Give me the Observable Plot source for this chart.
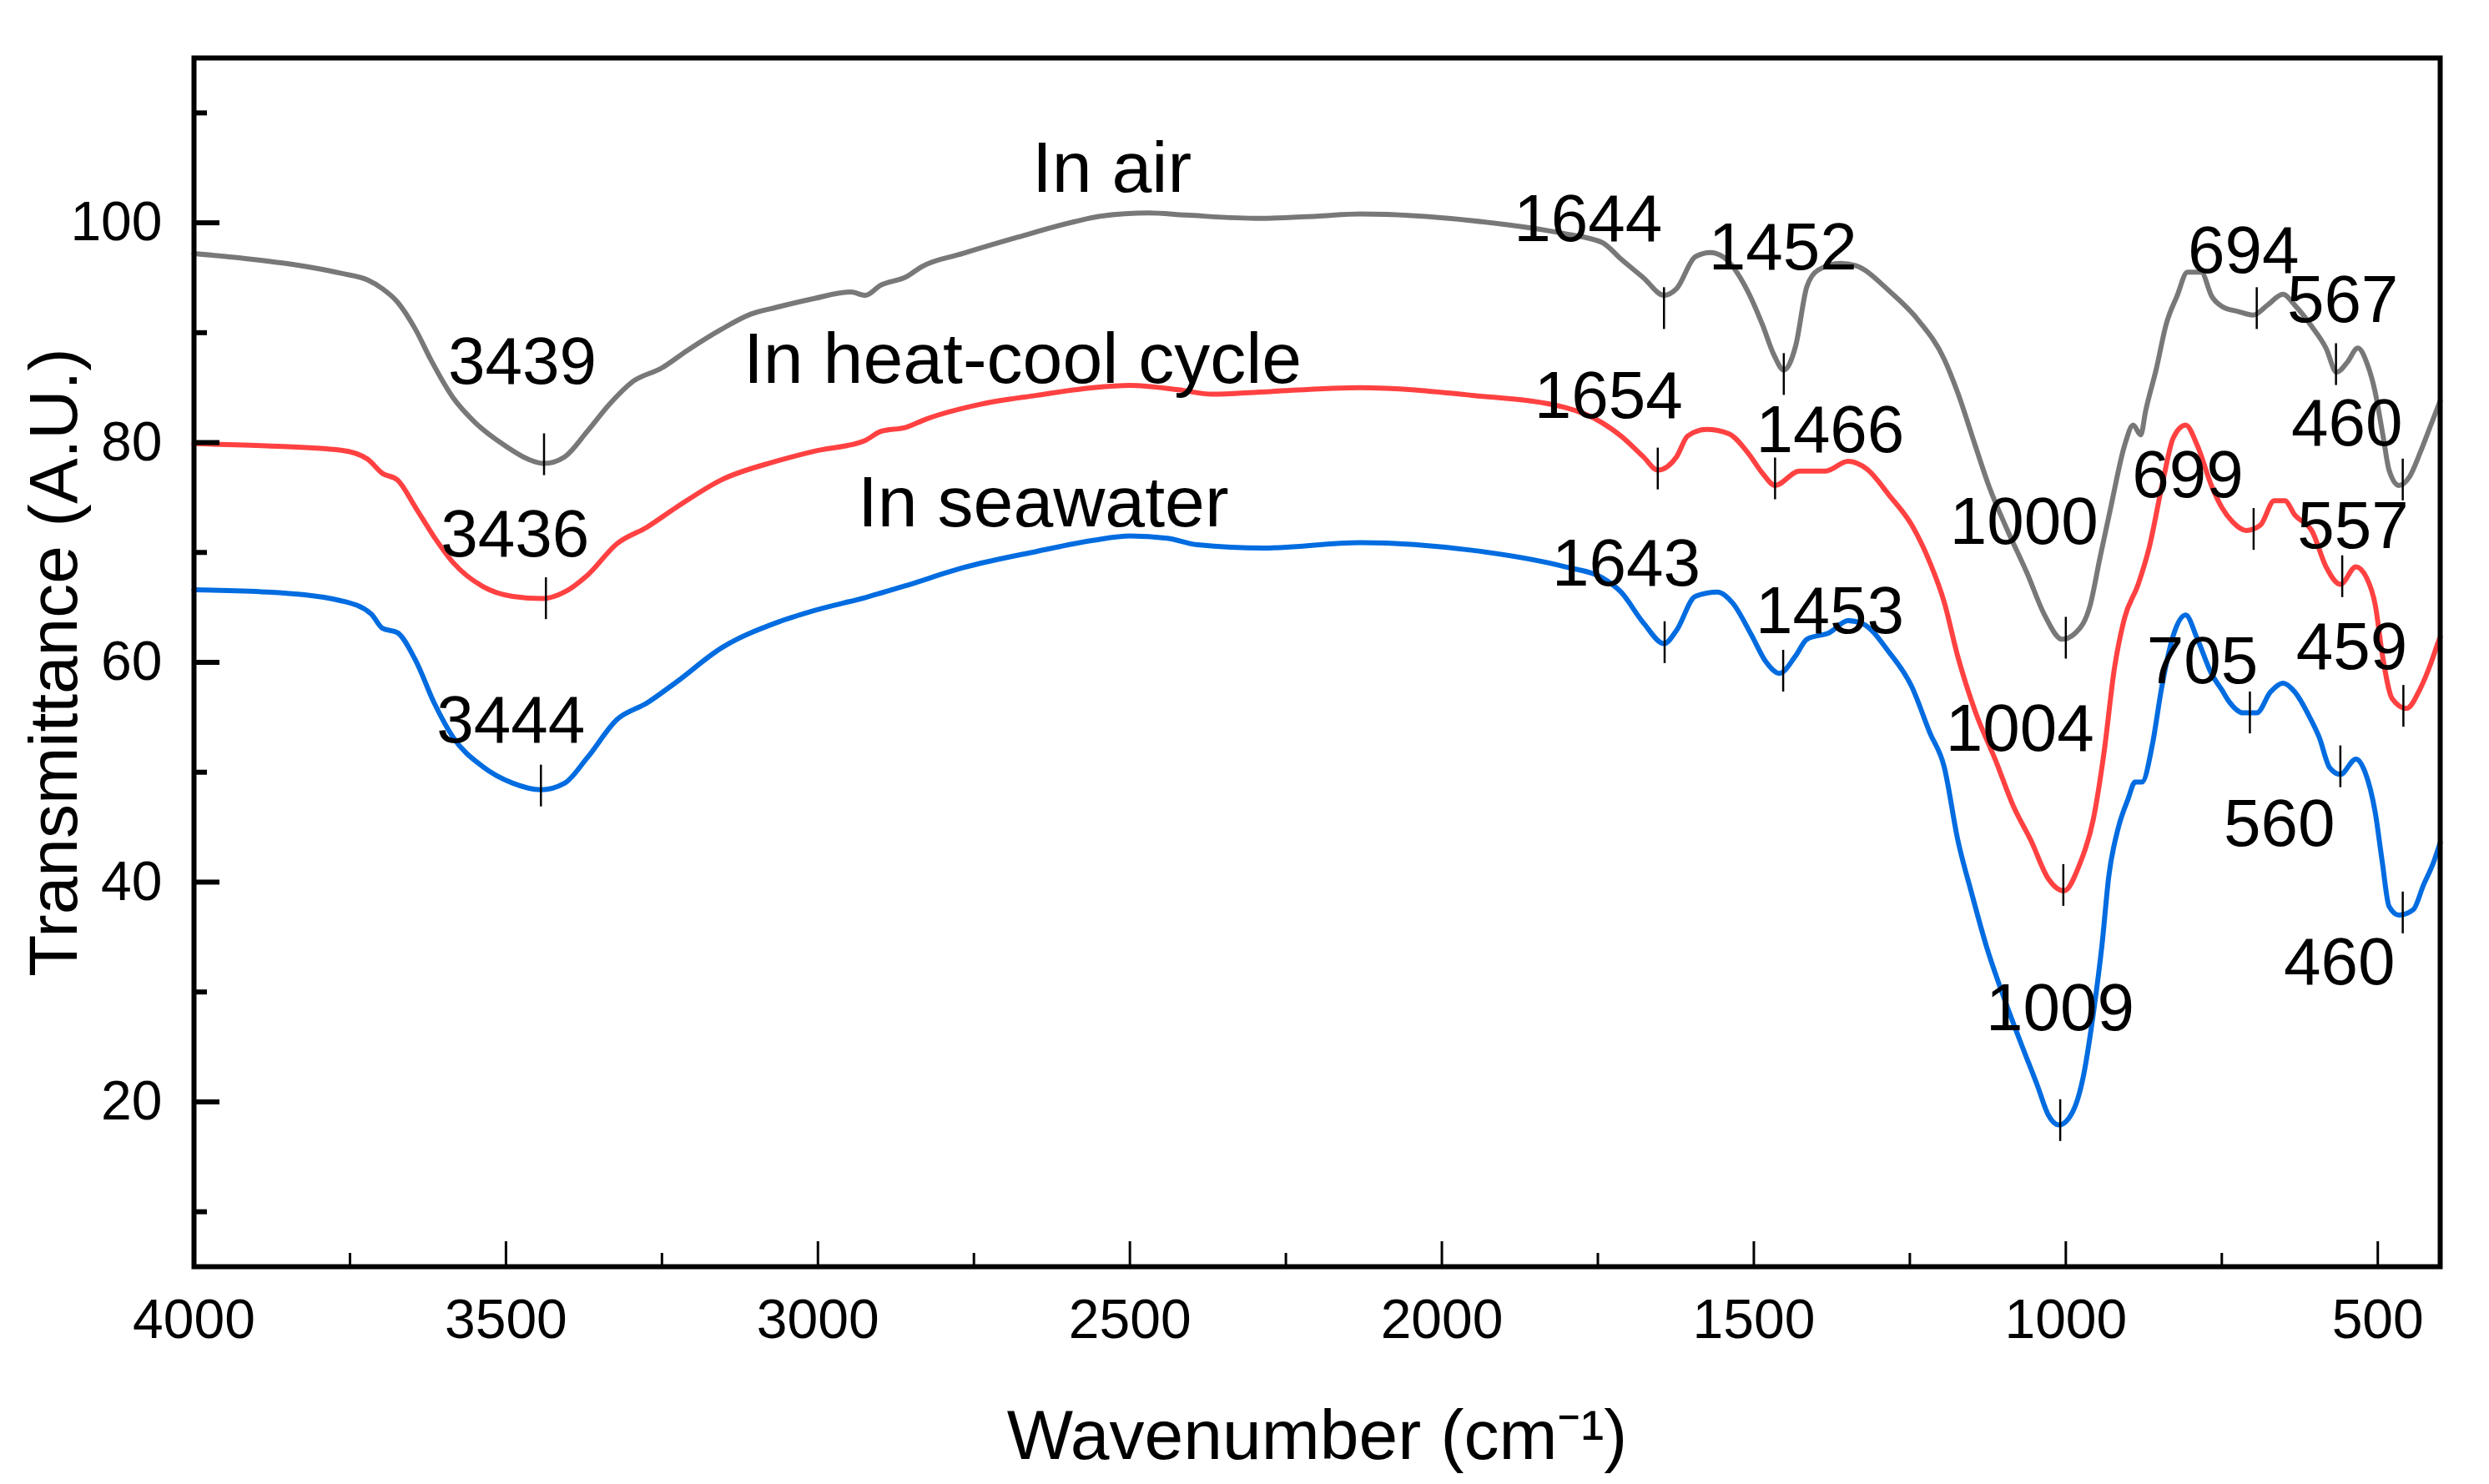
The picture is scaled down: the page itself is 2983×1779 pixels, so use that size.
<!DOCTYPE html>
<html>
<head>
<meta charset="utf-8">
<script src="https://cdn.jsdelivr.net/npm/d3@7"></script>
<script src="https://cdn.jsdelivr.net/npm/@observablehq/plot@0.6"></script>
<style>
  body { margin: 0; background: white; }
</style>
</head>
<body>
<div id="chart"></div>
<script>
// FTIR spectra, [wavenumber, transmittance]
const inAir = [
  [4000, 97.2], [3943, 96.9], [3853, 96.3], [3764, 95.4], [3722, 94.8], [3698, 94.0],
  [3674, 92.8], [3645, 90.3], [3621, 87.6], [3585, 84.1], [3549, 81.8], [3501, 79.7],
  [3465, 78.5], [3439, 78.1], [3406, 78.7], [3370, 81.0], [3334, 83.5], [3298, 85.5],
  [3250, 86.8], [3209, 88.4], [3155, 90.3], [3107, 91.7], [3067, 92.3], [3007, 93.1],
  [2947, 93.7], [2924, 93.4], [2900, 94.3], [2858, 95.1], [2834, 96.0], [2768, 97.2],
  [2679, 98.7], [2589, 100.1], [2548, 100.6], [2470, 100.9], [2410, 100.7], [2291, 100.4],
  [2201, 100.6], [2131, 100.8], [1952, 100.2], [1803, 99.0], [1743, 98.2], [1713, 96.7],
  [1677, 95.0], [1644, 93.4], [1624, 94.0], [1594, 96.9], [1570, 97.3], [1549, 96.9],
  [1510, 93.8], [1486, 90.7], [1468, 88.0], [1452, 86.6], [1433, 88.8], [1415, 94.2],
  [1397, 95.7], [1361, 96.3], [1337, 96.1], [1283, 93.8], [1236, 91.1], [1195, 87.6],
  [1173, 84.5], [1145, 79.7], [1123, 76.0], [1095, 72.2], [1062, 68.1], [1034, 64.3],
  [1006, 62.1], [984, 62.7], [961, 65.2], [945, 69.6], [928, 74.1], [906, 79.7],
  [892, 81.6], [880, 80.7], [872, 82.9], [855, 86.7], [839, 90.8], [822, 93.3],
  [805, 95.5], [783, 95.5], [766, 93.3], [750, 92.4], [722, 91.9], [700, 91.6],
  [677, 92.5], [652, 93.5], [633, 92.5], [605, 90.5], [583, 88.6], [566, 86.4],
  [549, 87.3], [532, 88.6], [516, 87.0], [505, 84.8], [491, 80.4], [482, 77.5],
  [466, 76.1], [449, 76.9], [432, 79.1], [415, 81.6], [400, 83.8]
];

const inHeatCool = [
  [4000, 79.9], [3883, 79.7], [3764, 79.3], [3722, 78.5], [3698, 77.2], [3674, 76.6],
  [3645, 74.1], [3615, 71.4], [3585, 69.1], [3537, 66.9], [3489, 66.0], [3441, 65.8],
  [3406, 66.4], [3370, 67.9], [3322, 70.8], [3274, 72.3], [3227, 74.1], [3155, 76.6],
  [3067, 78.3], [3007, 79.2], [2924, 80.2], [2900, 81.0], [2858, 81.4], [2828, 82.1],
  [2738, 83.5], [2649, 84.3], [2559, 85.0], [2500, 85.2], [2422, 84.8], [2368, 84.4],
  [2291, 84.6], [2131, 85.0], [1952, 84.3], [1803, 83.2], [1743, 81.8], [1713, 80.6],
  [1677, 78.7], [1654, 77.5], [1624, 78.7], [1606, 80.6], [1576, 81.2], [1540, 80.8],
  [1510, 79.1], [1486, 77.2], [1466, 76.1], [1427, 77.4], [1385, 77.4], [1349, 78.3],
  [1319, 77.6], [1283, 75.2], [1247, 72.5], [1218, 69.1], [1195, 65.5], [1173, 60.5],
  [1145, 55.5], [1112, 51.0], [1084, 46.9], [1056, 43.8], [1028, 40.3], [1003, 39.2],
  [978, 41.6], [956, 45.7], [939, 51.7], [922, 59.5], [906, 64.0], [884, 67.1],
  [867, 70.3], [844, 76.6], [828, 80.4], [808, 81.6], [789, 79.7], [766, 76.0],
  [750, 74.1], [733, 72.8], [711, 72.0], [688, 72.5], [666, 74.7], [649, 74.7],
  [633, 73.4], [605, 71.9], [583, 68.7], [560, 67.1], [535, 68.7], [518, 67.7],
  [504, 65.2], [493, 60.8], [477, 56.7], [454, 55.8], [432, 57.6], [415, 59.9],
  [404, 61.7], [400, 62.3]
];

const inSeawater = [
  [4000, 66.6], [3883, 66.4], [3764, 65.6], [3716, 64.4], [3698, 63.1], [3674, 62.7],
  [3645, 60.2], [3615, 56.3], [3585, 53.2], [3537, 50.5], [3489, 49.0], [3444, 48.4],
  [3406, 49.0], [3370, 51.3], [3322, 54.8], [3274, 56.3], [3227, 58.2], [3155, 61.3],
  [3067, 63.6], [3007, 64.7], [2924, 65.9], [2858, 67.0], [2768, 68.6], [2649, 70.1],
  [2559, 71.1], [2500, 71.5], [2440, 71.3], [2392, 70.7], [2285, 70.4], [2131, 70.9],
  [1952, 70.2], [1803, 68.7], [1743, 67.7], [1713, 66.4], [1677, 63.6], [1644, 61.7],
  [1624, 62.9], [1594, 66.0], [1558, 66.4], [1534, 65.4], [1504, 62.5], [1480, 60.0],
  [1459, 59.0], [1433, 60.6], [1415, 62.1], [1379, 62.7], [1349, 63.8], [1325, 63.5],
  [1283, 60.9], [1247, 57.8], [1218, 53.6], [1195, 50.5], [1173, 43.8], [1151, 39.0],
  [1128, 34.3], [1100, 29.6], [1073, 25.5], [1045, 21.4], [1028, 18.8], [1011, 17.9],
  [989, 19.1], [972, 22.3], [956, 28.0], [942, 34.3], [931, 40.6], [917, 44.7],
  [900, 47.6], [889, 49.1], [878, 49.1], [861, 52.6], [847, 57.5], [828, 62.4],
  [808, 64.3], [789, 62.1], [766, 58.9], [750, 57.5], [738, 56.4], [716, 55.4],
  [694, 55.4], [672, 57.3], [652, 58.1], [633, 57.3], [610, 55.1], [594, 53.2],
  [577, 50.4], [560, 49.8], [535, 51.2], [521, 50.1], [504, 46.3], [493, 41.9],
  [482, 37.8], [466, 37.0], [443, 37.5], [427, 39.7], [410, 41.9], [400, 43.6]
];

const seriesNames = ["In air", "In heat-cool cycle", "In seawater"];
const seriesColors = ["#787878", "#ff4141", "#006ce0"];

// series name placed at [wavenumber, transmittance]
const seriesLabelAt = [[2529, 102.8], [2672, 85.4], [2639, 72.4]];

// labelled bands: wavenumber and the transmittance at the centre of the marker
const peakText = ["3439", "1644", "1452", "1000", "694", "567", "460",
                  "3436", "1654", "1466", "1004", "699", "557", "459",
                  "3444", "1643", "1453", "1009", "705", "560", "460"];
const peakWn = [3439, 1644, 1452, 1000, 694, 567, 460,
                3436, 1654, 1466, 1004, 699, 557, 459,
                3444, 1643, 1453, 1009, 705, 560, 460];
const peakT = [78.9, 92.2, 86.2, 62.2, 92.2, 87.1, 76.6,
               65.8, 77.6, 76.7, 39.7, 72.1, 67.8, 56.0,
               48.75, 61.8, 59.2, 18.3, 55.4, 50.5, 37.2];

// label placement relative to the marker, in px
const peakShift = [[-26, -85], [-91, -81], [-1, -126], [-50, -113], [-16, -43], [8, -51], [-67, -41],
                   [-37, -51], [-59, -61], [66, -32], [-52, -161], [-79, -39], [13, -34], [-62, -45],
                   [-36, -52], [-46, -68], [56, -46], [0, -108], [-57, -36], [-73, 95], [-76, 86]];

const xMajor = [4000, 3500, 3000, 2500, 2000, 1500, 1000, 500];
const xMinor = [3750, 3250, 2750, 2250, 1750, 1250, 750];
const yMajor = [20, 40, 60, 80, 100];
const yMinor = [10, 30, 50, 70, 90, 110];

const rows = [inAir, inHeatCool, inSeawater].flatMap((s, i) =>
  s.map(([wn, t]) => ({series: seriesNames[i], wn, t})));
const peaks = peakText.map((text, i) => ({text, wn: peakWn[i], t: peakT[i]}));
const seriesLabels = seriesNames.map((name, i) => ({name, wn: seriesLabelAt[i][0], t: seriesLabelAt[i][1]}));

const font = "'Liberation Sans', Arial, sans-serif";

const chart = Plot.plot({
  width: 2983,
  height: 1779,
  marginLeft: 232,
  marginRight: 59,
  marginTop: 69,
  marginBottom: 261,
  style: {fontFamily: font, color: "black", background: "white"},
  x: {domain: [4000, 400]},
  y: {domain: [5, 115]},
  color: {domain: seriesNames, range: seriesColors},
  marks: [
    Plot.line(rows, {x: "wn", y: "t", z: "series", stroke: "series", strokeWidth: 6, curve: "monotone-x"}),
    Plot.ruleX(peaks, {x: "wn", y1: d => d.t - 1.9, y2: d => d.t + 1.9, stroke: "black", strokeWidth: 2.5}),
    ...peaks.map((p, i) => Plot.text([p], {
      x: "wn", y: "t", text: "text", dx: peakShift[i][0], dy: peakShift[i][1],
      lineAnchor: "bottom", fontSize: 80, fill: "black"
    })),
    Plot.text(seriesLabels, {x: "wn", y: "t", text: "name", lineAnchor: "bottom", fontSize: 86, fill: "black"}),
    Plot.axisX({ticks: xMajor, tickSize: -30, tickPadding: 69, strokeWidth: 3, fontSize: 66, tickFormat: "d", label: null}),
    Plot.axisX({ticks: xMinor, tickSize: -16, strokeWidth: 3, tickFormat: () => "", label: null}),
    Plot.axisY({ticks: yMajor, tickSize: -31, tickPadding: 69, strokeWidth: 6, fontSize: 66, tickFormat: "d", label: null}),
    Plot.axisY({ticks: yMinor, tickSize: -16, strokeWidth: 6, tickFormat: () => "", label: null}),
    Plot.frame({stroke: "black", strokeWidth: 6}),
    Plot.text(["Wavenumber (cm\u207B\u00B9)"], {frameAnchor: "bottom", dy: 230, lineAnchor: "bottom", fontSize: 84, fill: "black"}),
    Plot.text(["Transmittance (A.U.)"], {frameAnchor: "left", dx: -167, rotate: -90, textAnchor: "middle", fontSize: 82, fill: "black"})
  ]
});

d3.select("#chart").append(() => chart);
</script>
</body>
</html>
